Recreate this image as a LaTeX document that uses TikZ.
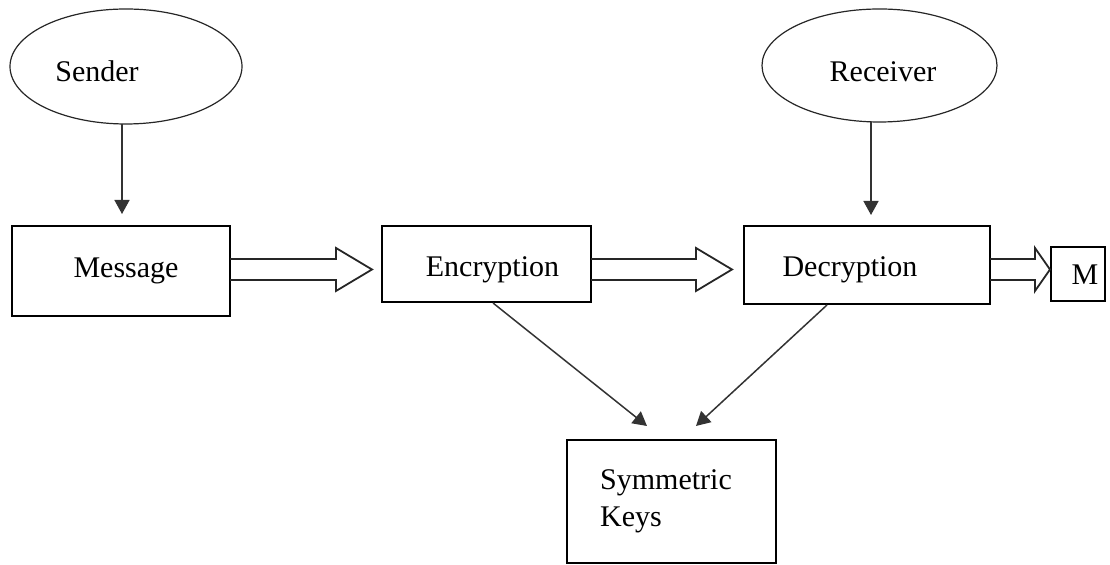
\documentclass[tikz,border=0pt]{standalone}
\usepackage{fontspec}
\setmainfont{Liberation Serif}
\usetikzlibrary{shapes.geometric,arrows.meta,calc}

% hollow block arrow: #1 start point, #2 tip, #3 head length
\newcommand\hollowarrow[3]{%
  \draw[hollow] ($(#1)+(0,-10.5)$) -- ($(#2)+(-#3,-10.5)$) -- ($(#2)+(-#3,-21.5)$)
    -- (#2) -- ($(#2)+(-#3,21.5)$) -- ($(#2)+(-#3,10.5)$) -- ($(#1)+(0,10.5)$);}

\begin{document}
\begin{tikzpicture}[x=0.5pt,y=-0.5pt,
  font=\fontsize{15}{18.5}\selectfont,
  every node/.style={inner sep=0pt, outer sep=0pt},
  box/.style={draw=black, line width=0.9pt, rectangle},
  oval/.style={draw=black!85, line width=0.6pt, ellipse},
  nudge/.style={execute at begin node={\hspace*{#1}}},
  base/.style={text height=#1pt, text depth=0pt},
  arr/.style={draw=black!80, line width=0.75pt, -{Triangle[length=7pt,width=7.5pt]}},
  hollow/.style={draw=black!85, line width=0.9pt, line join=miter},
]
\useasboundingbox (0,0) rectangle (1110,565);

% parties
\node[oval, minimum width=116pt, minimum height=57.5pt, nudge=-29pt, base=15.5]
  (sender) at (126,66.5) {Sender};
\node[oval, minimum width=117.5pt, minimum height=56.5pt, nudge=3.5pt, base=16.5]
  (receiver) at (879.5,65.5) {Receiver};

% processing boxes
\node[box, minimum width=109pt, minimum height=45pt, nudge=5pt, base=7]
  (msg) at (121,271) {Message};
\node[box, minimum width=104.5pt, minimum height=38pt, nudge=6pt, base=13]
  (enc) at (486.5,264) {Encryption};
\node[box, minimum width=123pt, minimum height=39pt, nudge=-17pt, base=12]
  (dec) at (867,265) {Decryption};
\node[box, minimum width=27pt, minimum height=27pt, nudge=7pt, base=11]
  (out) at (1078,274) {M};
\node[box, minimum width=104.5pt, minimum height=61.5pt, align=left, nudge=-5.5pt]
  (keys) at (671.5,501.5) {Symmetric\\Keys};

% plain arrows
\draw[arr] ($(sender.south)+(-4,0)$) -- ($(msg.north)+(1,-12)$);
\draw[arr] ($(receiver.south)+(-8.5,0)$) -- ($(dec.north)+(4,-11)$);
\draw[arr] ($(enc.south)+(6.5,1)$) -- ($(keys.north)+(-24.5,-14)$);
\draw[arr] ($(dec.south)+(-40,1)$) -- ($(keys.north)+(24.5,-14)$);

% hollow flow arrows
\coordinate (lane) at (0,269.5);
\coordinate (a1s) at (msg.east |- lane);
\coordinate (a1t) at ($(enc.west |- lane)+(-10,0)$);
\coordinate (a2s) at (enc.east |- lane);
\coordinate (a2t) at ($(dec.west |- lane)+(-12,0)$);
\coordinate (a3s) at (dec.east |- lane);
\coordinate (a3t) at ($(out.west |- lane)+(-1,0)$);
\hollowarrow{a1s}{a1t}{36}
\hollowarrow{a2s}{a2t}{36}
\hollowarrow{a3s}{a3t}{15}
\end{tikzpicture}
\end{document}
